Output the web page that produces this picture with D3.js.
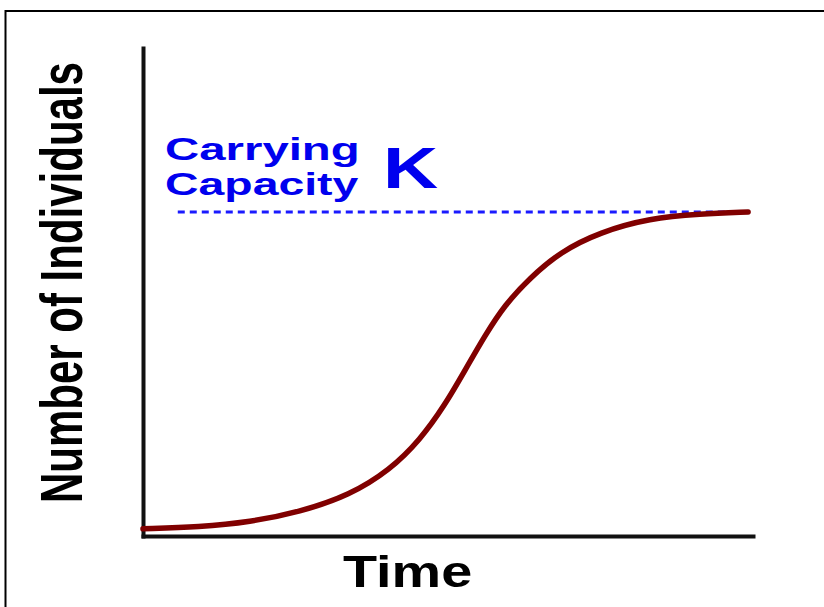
<!DOCTYPE html>
<html>
<head>
<meta charset="utf-8">
<script src="https://cdn.jsdelivr.net/npm/d3@7"></script>
<style>
  html, body { margin: 0; padding: 0; background: #fff; }
  svg { display: block; }
  text { font-family: "Liberation Sans", Arial, sans-serif; font-weight: bold; }
</style>
</head>
<body>
<div id="chart"></div>
<script>
// Logistic growth (time units, % of K)
const times = [0, 0.93, 1.75, 2.57, 3.39, 4.05, 4.54, 4.95, 5.28, 5.61, 5.93, 6.34, 6.84, 7.49, 8.31, 9.13, 9.92];
const individuals = [2.2, 2.8, 4.3, 7.4, 12.6, 20.4, 29.6, 40.4, 51.2, 62.0, 71.3, 79.6, 87.7, 93.8, 98.1, 99.4, 100];
const carryingK = 100;
const kLineRange = [0.57, 9.87];
const labels = { x: "Time", y: "Number of Individuals", k1: "Carrying", k2: "Capacity", k: "K" };

const W = 824, H = 607;
const margin = {left: 143, right: 71, top: 48, bottom: 71};

const svg = d3.select("#chart").append("svg")
    .attr("width", W)
    .attr("height", H);

// outer frame (only top and left edges show)
svg.append("path")
    .attr("d", `M5.5,${H} V11 H${W}`)
    .attr("fill", "none")
    .attr("stroke", "#000")
    .attr("stroke-width", 2);

const x = d3.scaleLinear().domain([0, 10]).range([margin.left, W - margin.right]);
const y = d3.scaleLinear().domain([0, carryingK]).range([H - margin.bottom, 212]);

// Axes without ticks
svg.append("g")
    .attr("transform", `translate(0,${y(0)})`)
    .call(d3.axisBottom(x).tickValues([]).tickSizeOuter(0))
    .select(".domain")
      .attr("stroke", "#111")
      .attr("stroke-width", 4)
      .attr("stroke-linecap", "square");
svg.append("g")
    .attr("transform", `translate(${x(0)},0)`)
    .call(d3.axisLeft(y.copy().range([H - margin.bottom, margin.top])).tickValues([]).tickSizeOuter(0))
    .select(".domain")
      .attr("stroke", "#111")
      .attr("stroke-width", 4)
      .attr("stroke-linecap", "square");

// Carrying capacity dashed line
svg.append("line")
    .attr("x1", x(kLineRange[0]))
    .attr("x2", x(kLineRange[1]))
    .attr("y1", y(carryingK))
    .attr("y2", y(carryingK))
    .attr("stroke", "#1a1aff")
    .attr("stroke-width", 3)
    .attr("stroke-dasharray", "7,5");

// Growth curve
const data = times.map((t, i) => ({t: t, n: individuals[i]}));
svg.append("path")
    .datum(data)
    .attr("fill", "none")
    .attr("stroke", "#800000")
    .attr("stroke-width", 5.5)
    .attr("stroke-linecap", "round")
    .attr("d", d3.line().x(d => x(d.t)).y(d => y(d.n)).curve(d3.curveBasis));

// Labels (the source picture is stretched sideways, so glyphs are scaled)
svg.append("text")
    .attr("transform", "translate(343,587) scale(1.24,1)")
    .attr("font-size", 45)
    .attr("fill", "#000")
    .text(labels.x);

svg.append("text")
    .attr("transform", "translate(82,503) rotate(-90) scale(1,1.43)")
    .attr("font-size", 42)
    .attr("fill", "#000")
    .text(labels.y);

svg.append("text")
    .attr("transform", "translate(165,160) scale(1.48,1)")
    .attr("font-size", 32)
    .attr("fill", "#0000ee")
    .text(labels.k1);

svg.append("text")
    .attr("transform", "translate(165,195) scale(1.45,1)")
    .attr("font-size", 32)
    .attr("fill", "#0000ee")
    .text(labels.k2);

svg.append("text")
    .attr("transform", "translate(383,188) scale(1.34,1)")
    .attr("font-size", 57)
    .attr("fill", "#0000ee")
    .text(labels.k);
</script>
</body>
</html>
